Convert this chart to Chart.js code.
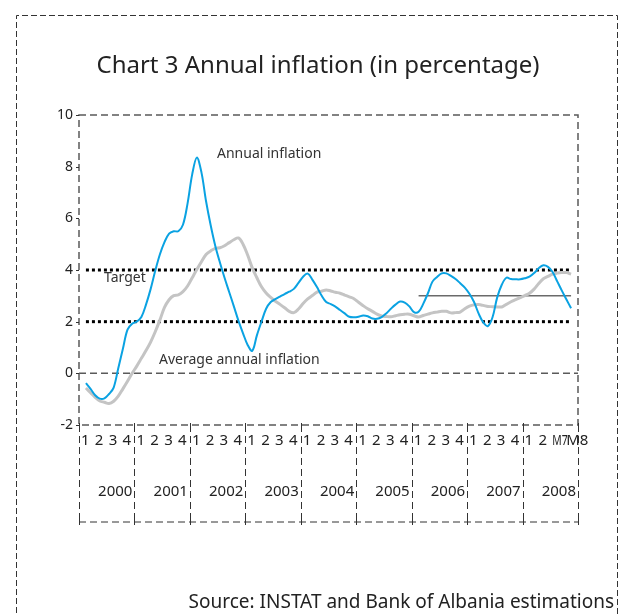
<!DOCTYPE html>
<html>
<head>
<meta charset="utf-8">
<title>Annual inflation</title>
<script src="https://cdn.jsdelivr.net/npm/chart.js@4.4.1/dist/chart.umd.min.js"></script>
<style>
    html, body { margin: 0; padding: 0; background: #fff; }
    #wrap { width: 621px; height: 616px; }
</style>
</head>
<body>
<div id="wrap"><canvas id="inflation-chart" width="621" height="616"></canvas></div>
<script>
// Monthly readings, 2000 M1 .. 2008 (one value every third of a quarter)
const annualInflation = [
    -0.38, -0.6, -0.85, -0.98, -0.97, -0.8, -0.55, 0.2, 0.95, 1.69,
    1.92, 2.0, 2.18, 2.66, 3.26, 3.97, 4.6, 5.08, 5.41, 5.5,
    5.5, 5.75, 6.58, 7.7, 8.35, 7.78, 6.66, 5.73, 4.93, 4.29,
    3.7, 3.15, 2.6, 2.04, 1.55, 1.1, 0.87, 1.47, 2.0, 2.5,
    2.76, 2.87, 2.97, 3.07, 3.16, 3.27, 3.5, 3.74, 3.86, 3.63,
    3.34, 3.01, 2.76, 2.68, 2.58, 2.45, 2.32, 2.19, 2.17, 2.19,
    2.24, 2.21, 2.12, 2.11, 2.18, 2.32, 2.5, 2.66, 2.78, 2.74,
    2.59, 2.37, 2.38, 2.69, 3.09, 3.55, 3.73, 3.87, 3.87, 3.77,
    3.65, 3.49, 3.32, 3.08, 2.76, 2.31, 1.97, 1.83, 2.17, 2.93,
    3.43, 3.7, 3.65, 3.64, 3.64, 3.68, 3.74, 3.88, 4.07, 4.18,
    4.12, 3.92, 3.56, 3.2, 2.86, 2.52
];
const averageInflation = [
    -0.57, -0.75, -0.93, -1.07, -1.12, -1.17, -1.08, -0.88, -0.6, -0.31,
    0.0, 0.28, 0.58, 0.88, 1.21, 1.61, 2.06, 2.55, 2.85, 3.01,
    3.04, 3.16, 3.38, 3.7, 4.02, 4.32, 4.6, 4.74, 4.84, 4.86,
    4.94, 5.06, 5.17, 5.24, 5.0, 4.58, 4.08, 3.7, 3.35, 3.11,
    2.94, 2.79, 2.67, 2.54, 2.4, 2.35, 2.49, 2.7, 2.88, 3.01,
    3.14, 3.18, 3.23, 3.19, 3.14, 3.1, 3.03, 2.96, 2.89, 2.75,
    2.62, 2.5, 2.4, 2.29, 2.22, 2.2, 2.19, 2.23, 2.27, 2.29,
    2.29, 2.23, 2.18, 2.24, 2.29, 2.34, 2.37, 2.4, 2.4, 2.34,
    2.35, 2.37, 2.5, 2.6, 2.65, 2.66, 2.63, 2.59, 2.58, 2.57,
    2.57, 2.67, 2.77, 2.85, 2.93, 3.01, 3.1, 3.26, 3.48, 3.66,
    3.75, 3.84, 3.88, 3.9, 3.9, 3.84
];

// Target band and the 3% point target (from 2006 Q1)
const targetBand = [2, 4];
const targetPoint = 3;
const targetPointStart = 24; // quarter index of 2006 Q1

const years = ['2000', '2001', '2002', '2003', '2004', '2005', '2006', '2007', '2008'];
const quarterTicks = ['1', '2', '3', '4'];
const lastYearTicks = ['1', '2', 'M7', 'M8'];
const yTicks = [10, 8, 6, 4, 2, 0, -2];

const BLUE = '#0aa2e2';
const GREY = '#c4c4c4';
const FONT = '"Noto Sans", "DejaVu Sans", sans-serif';

// one label per quarter slot; 2008 ends with two monthly slots
const slotLabels = [];
years.forEach((yr, j) => {
    const ticks = j === years.length - 1 ? lastYearTicks : quarterTicks;
    ticks.forEach(t => slotLabels.push(t));
});
const nSlots = slotLabels.length;

const toPoints = arr => arr.map((v, i) => ({ x: 0.5 + i / 3, y: v }));
const flatLine = (v, from, to) => [{ x: from + 0.5, y: v }, { x: to - 0.5, y: v }];

// frame, axes and all the text are drawn by hand around the plot area
const framePlugin = {
    id: 'frame',
    beforeDatasetsDraw(chart) {
        const { ctx, chartArea: a, scales: { x, y } } = chart;
        ctx.save();

        // outer dashed border (runs off the bottom of the page)
        ctx.setLineDash([6, 3]);
        ctx.strokeStyle = '#333';
        ctx.lineWidth = 1;
        ctx.beginPath();
        ctx.moveTo(16.5, 640); ctx.lineTo(16.5, 15.5); ctx.lineTo(617.5, 15.5); ctx.lineTo(617.5, 640);
        ctx.stroke();

        // plot box + zero line
        ctx.setLineDash([7, 4]);
        ctx.strokeStyle = '#5a5a5a';
        ctx.lineWidth = 1.5;
        ctx.strokeRect(a.left, a.top, a.right - a.left, a.bottom - a.top);
        const y0 = y.getPixelForValue(0);
        ctx.beginPath();
        ctx.moveTo(a.left, y0); ctx.lineTo(a.right, y0);
        ctx.stroke();

        // category box under the plot
        const boxBottom = a.bottom + 97;
        ctx.lineWidth = 1;
        ctx.strokeStyle = '#333';
        ctx.beginPath();
        ctx.moveTo(a.left, boxBottom); ctx.lineTo(a.right, boxBottom);
        for (let j = 0; j <= years.length; j++) {
            const px = Math.round(x.getPixelForValue(j * 4)) + 0.5;
            ctx.moveTo(px, a.bottom); ctx.lineTo(px, boxBottom);
        }
        ctx.stroke();
        ctx.setLineDash([]);
        ctx.beginPath();
        for (let j = 0; j <= years.length; j++) {
            const px = Math.round(x.getPixelForValue(j * 4)) + 0.5;
            ctx.moveTo(px, a.bottom - 2); ctx.lineTo(px, a.bottom + 3);
            ctx.moveTo(px, boxBottom - 2); ctx.lineTo(px, boxBottom + 3);
        }
        // y ticks
        yTicks.forEach(v => {
            const py = Math.round(y.getPixelForValue(v)) + 0.5;
            ctx.moveTo(a.left - 3, py); ctx.lineTo(a.left, py);
        });
        ctx.stroke();
        ctx.restore();
    },
    afterDraw(chart) {
        const { ctx, chartArea: a, scales: { x, y } } = chart;
        const slotW = x.getPixelForValue(1) - x.getPixelForValue(0);
        ctx.save();
        ctx.fillStyle = '#222';

        ctx.font = `24px ${FONT}`;
        ctx.textAlign = 'center';
        ctx.textBaseline = 'middle';
        ctx.fillText('Chart 3 Annual inflation (in percentage)', 318, 66);

        ctx.font = `14px ${FONT}`;
        ctx.textAlign = 'right';
        yTicks.forEach(v => ctx.fillText(String(v), a.left - 6, y.getPixelForValue(v)));

        // quarter labels, squeezed into their slot (only the last one may run over)
        ctx.font = `15px ${FONT}`;
        ctx.textAlign = 'left';
        slotLabels.forEach((t, i) => {
            const px = x.getPixelForValue(i) + 2;
            if (i < nSlots - 1) ctx.fillText(t, px, a.bottom + 16, slotW + 1.5);
            else ctx.fillText(t, px, a.bottom + 16);
        });

        ctx.textAlign = 'right';
        years.forEach((yr, j) => ctx.fillText(yr, x.getPixelForValue((j + 1) * 4) - 2, a.bottom + 67));

        // series notes
        ctx.font = `14px ${FONT}`;
        ctx.fillStyle = '#333';
        ctx.textAlign = 'left';
        ctx.fillText('Annual inflation', 217, 154);
        ctx.fillText('Target', 104, 278);
        ctx.fillText('Average annual inflation', 159, 360);

        ctx.font = `19px ${FONT}`;
        ctx.fillStyle = '#222';
        ctx.textAlign = 'right';
        ctx.fillText('Source: INSTAT and Bank of Albania estimations', 614, 603);
        ctx.restore();
    }
};

new Chart(document.getElementById('inflation-chart'), {
    type: 'line',
    data: {
        datasets: [
            {
                label: 'Annual inflation',
                data: toPoints(annualInflation),
                borderColor: BLUE,
                borderWidth: 2,
                tension: 0.35,
                order: 0
            },
            {
                label: 'Average annual inflation',
                data: toPoints(averageInflation),
                borderColor: GREY,
                borderWidth: 3,
                tension: 0.35,
                order: 1
            },
            {
                label: 'Target',
                data: flatLine(targetPoint, targetPointStart, nSlots),
                borderColor: '#6a6a6a',
                borderWidth: 1.5,
                order: 2
            },
            ...targetBand.map(v => ({
                label: 'Target band',
                data: flatLine(v, 0, nSlots),
                borderColor: '#000',
                borderWidth: 3,
                borderDash: [3, 3],
                borderCapStyle: 'butt',
                order: 3
            }))
        ]
    },
    options: {
        responsive: false,
        animation: false,
        layout: { padding: { left: 79, right: 43, top: 115, bottom: 191 } },
        elements: { point: { radius: 0 } },
        scales: {
            x: { type: 'linear', min: 0, max: nSlots, display: false },
            y: { min: -2, max: 10, display: false }
        },
        plugins: { legend: { display: false }, tooltip: { enabled: false } }
    },
    plugins: [framePlugin]
});
</script>
</body>
</html>
